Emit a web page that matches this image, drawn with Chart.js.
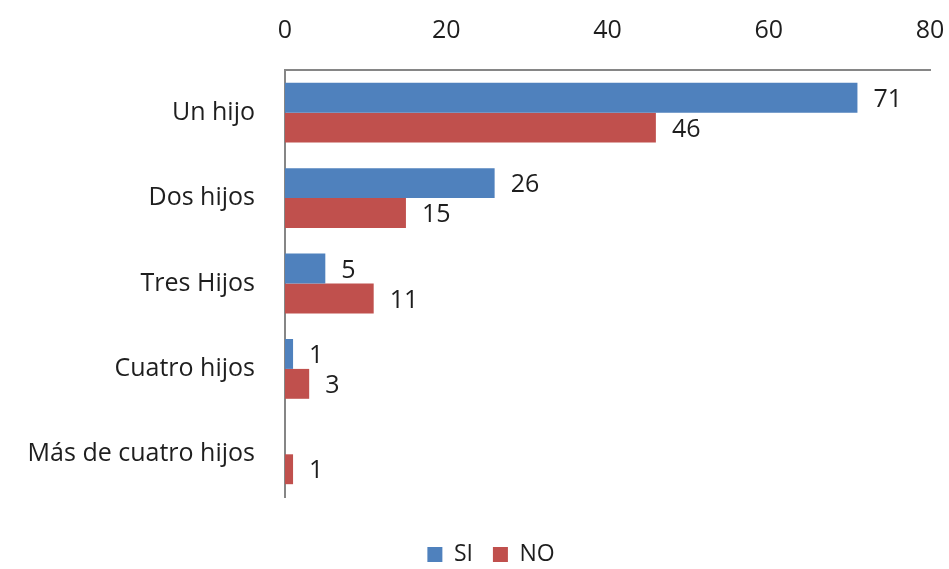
<!DOCTYPE html>
<html>
<head>
<meta charset="utf-8">
<script src="https://cdn.jsdelivr.net/npm/chart.js@4"></script>
<style>
  html, body { margin: 0; padding: 0; background: #fff; }
  #wrap { width: 949px; height: 569px; }
</style>
</head>
<body>
<div id="wrap"><canvas id="hijosChart" width="949" height="569"></canvas></div>
<script>
const categories = ['Un hijo', 'Dos hijos', 'Tres Hijos', 'Cuatro hijos', 'Más de cuatro hijos'];
const siValues = [71, 26, 5, 1, 0];
const noValues = [46, 15, 11, 3, 1];
const xTicks = [0, 20, 40, 60, 80];

const FONT = "'Open Sans', 'Liberation Sans', sans-serif";

// value labels to the right of each bar
const barLabels = {
  id: 'barLabels',
  afterDatasetsDraw(chart) {
    const ctx = chart.ctx;
    ctx.save();
    ctx.font = '25px ' + FONT;
    ctx.fillStyle = '#1e1e1e';
    ctx.textBaseline = 'middle';
    ctx.textAlign = 'left';
    chart.data.datasets.forEach((ds, i) => {
      chart.getDatasetMeta(i).data.forEach((bar, j) => {
        if (!ds.data[j]) return;
        ctx.fillText(String(ds.data[j]), bar.x + 16, bar.y + 2);
      });
    });
    ctx.restore();
  }
};

// fixed legend box height so the plot ends where the original does,
// and nudge the legend row down/right to sit like the original
const legendFix = {
  id: 'legendFix',
  beforeLayout(chart) {
    const lg = chart.legend;
    if (lg && !lg._fixed) {
      const fit = lg.fit;
      lg.fit = function () { fit.call(this); this.height = 72; };
      const draw = lg.draw;
      lg.draw = function () {
        this.ctx.save();
        this.ctx.translate(26, 26);
        draw.call(this);
        this.ctx.restore();
      };
      lg._fixed = true;
    }
  }
};

const ctx = document.getElementById('hijosChart').getContext('2d');
new Chart(ctx, {
  type: 'bar',
  data: {
    labels: categories,
    datasets: [{
      label: 'SI',
      data: siValues,
      backgroundColor: '#4F81BD',
      borderWidth: 0
    }, {
      label: 'NO',
      data: noValues,
      backgroundColor: '#C0504D',
      borderWidth: 0
    }]
  },
  options: {
    indexAxis: 'y',
    responsive: false,
    animation: false,
    layout: { padding: { left: 0, right: 19, top: 0, bottom: 0 } },
    datasets: { bar: { categoryPercentage: 0.7, barPercentage: 1.0 } },
    scales: {
      x: {
        position: 'top',
        min: 0,
        max: 80,
        afterBuildTicks(scale) { scale.ticks = xTicks.map(v => ({ value: v })); },
        afterFit(scale) { scale.height = 70; scale.paddingLeft = 0; scale.paddingRight = 0; },
        grid: { display: false, drawTicks: false },
        border: { display: true, color: '#868686', width: 2 },
        ticks: { color: '#1e1e1e', padding: 24, font: { family: FONT, size: 25 } }
      },
      y: {
        afterFit(scale) { scale.width = 285; },
        grid: { display: false, drawTicks: false },
        border: { display: true, color: '#868686', width: 2 },
        ticks: { color: '#1e1e1e', padding: 30, font: { family: FONT, size: 25 } }
      }
    },
    plugins: {
      legend: {
        position: 'bottom',
        labels: {
          boxWidth: 15,
          boxHeight: 15,
          padding: 20,
          color: '#1e1e1e',
          font: { family: FONT, size: 23 }
        }
      },
      tooltip: { enabled: false }
    }
  },
  plugins: [barLabels, legendFix]
});
</script>
</body>
</html>
